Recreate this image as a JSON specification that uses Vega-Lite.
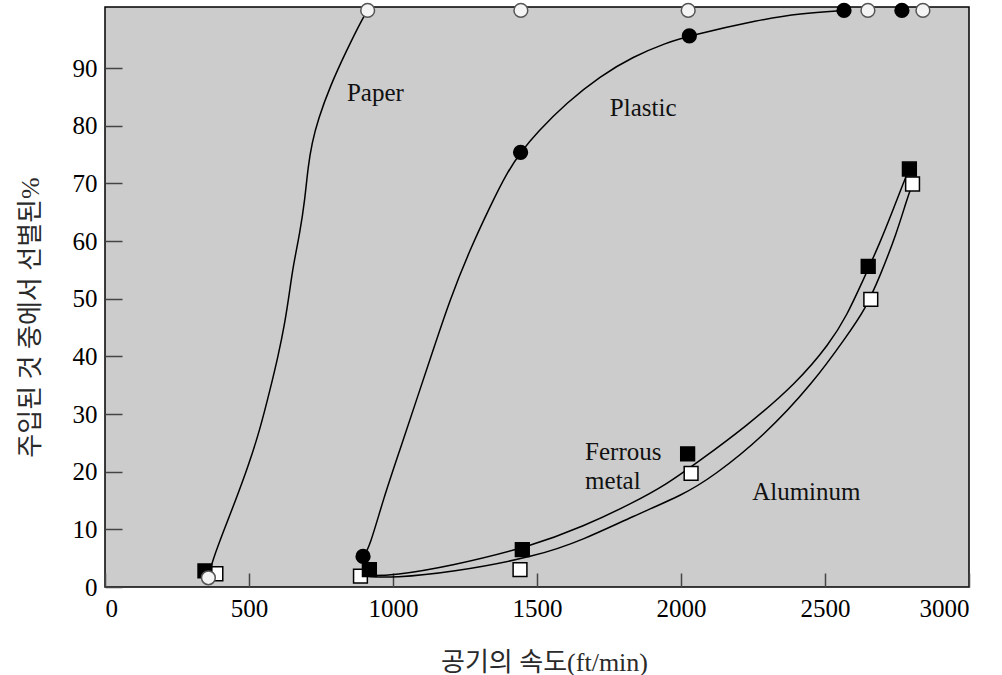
{
  "$schema": "https://vega.github.io/schema/vega-lite/v6.json",
  "width": 864,
  "height": 580,
  "autosize": {"type": "none"},
  "padding": {"left": 105, "top": 7, "right": 33, "bottom": 88},
  "background": "white",
  "config": {
    "view": {"fill": "#cccccc", "stroke": "black", "strokeWidth": 1.5},
    "axis": {"labelFont": "Liberation Serif", "labelFontSize": 25, "labelColor": "black", "titleFont": "Liberation Serif, Noto Sans CJK KR", "titleFontSize": 26, "titleFontWeight": "normal", "titleColor": "#2a2a2a", "grid": false, "domain": false, "tickColor": "#444", "tickWidth": 1.5}
  },
  "datasets": {
    "curves": [
      {"series": "Paper", "x": 358, "y": 1.8},
      {"series": "Paper", "x": 375, "y": 4.8},
      {"series": "Paper", "x": 410, "y": 9.5},
      {"series": "Paper", "x": 451, "y": 14.7},
      {"series": "Paper", "x": 497, "y": 20.9},
      {"series": "Paper", "x": 538, "y": 27.3},
      {"series": "Paper", "x": 573, "y": 34.2},
      {"series": "Paper", "x": 601, "y": 40.0},
      {"series": "Paper", "x": 625, "y": 45.9},
      {"series": "Paper", "x": 642, "y": 51.6},
      {"series": "Paper", "x": 653, "y": 55.6},
      {"series": "Paper", "x": 677, "y": 61.5},
      {"series": "Paper", "x": 694, "y": 67.2},
      {"series": "Paper", "x": 705, "y": 72.9},
      {"series": "Paper", "x": 719, "y": 77.1},
      {"series": "Paper", "x": 740, "y": 81.1},
      {"series": "Paper", "x": 781, "y": 86.8},
      {"series": "Paper", "x": 840, "y": 93.2},
      {"series": "Paper", "x": 896, "y": 98.8},
      {"series": "Paper", "x": 912, "y": 100},
      {"series": "Plastic", "x": 896, "y": 5.1},
      {"series": "Plastic", "x": 920, "y": 7.1},
      {"series": "Plastic", "x": 966, "y": 15.2},
      {"series": "Plastic", "x": 1024, "y": 23.8},
      {"series": "Plastic", "x": 1082, "y": 32.5},
      {"series": "Plastic", "x": 1140, "y": 41.2},
      {"series": "Plastic", "x": 1198, "y": 49.9},
      {"series": "Plastic", "x": 1267, "y": 58.5},
      {"series": "Plastic", "x": 1337, "y": 66.0},
      {"series": "Plastic", "x": 1395, "y": 71.8},
      {"series": "Plastic", "x": 1443, "y": 75.4},
      {"series": "Plastic", "x": 1499, "y": 78.8},
      {"series": "Plastic", "x": 1603, "y": 84.0},
      {"series": "Plastic", "x": 1719, "y": 88.6},
      {"series": "Plastic", "x": 1834, "y": 92.0},
      {"series": "Plastic", "x": 1950, "y": 94.4},
      {"series": "Plastic", "x": 2029, "y": 95.6},
      {"series": "Plastic", "x": 2274, "y": 98.4},
      {"series": "Plastic", "x": 2413, "y": 99.5},
      {"series": "Plastic", "x": 2566, "y": 100},
      {"series": "Ferrous", "x": 918, "y": 2.0},
      {"series": "Ferrous", "x": 1001, "y": 2.0},
      {"series": "Ferrous", "x": 1198, "y": 3.6},
      {"series": "Ferrous", "x": 1482, "y": 7.1},
      {"series": "Ferrous", "x": 1661, "y": 10.5},
      {"series": "Ferrous", "x": 1834, "y": 14.6},
      {"series": "Ferrous", "x": 1950, "y": 17.8},
      {"series": "Ferrous", "x": 2054, "y": 21.5},
      {"series": "Ferrous", "x": 2228, "y": 27.9},
      {"series": "Ferrous", "x": 2402, "y": 35.4},
      {"series": "Ferrous", "x": 2517, "y": 42.3},
      {"series": "Ferrous", "x": 2575, "y": 47.0},
      {"series": "Ferrous", "x": 2633, "y": 53.3},
      {"series": "Ferrous", "x": 2691, "y": 59.7},
      {"series": "Ferrous", "x": 2737, "y": 65.5},
      {"series": "Ferrous", "x": 2772, "y": 70.1},
      {"series": "Ferrous", "x": 2793, "y": 72.5},
      {"series": "Aluminum", "x": 918, "y": 1.8},
      {"series": "Aluminum", "x": 1001, "y": 1.6},
      {"series": "Aluminum", "x": 1198, "y": 2.5},
      {"series": "Aluminum", "x": 1499, "y": 5.3},
      {"series": "Aluminum", "x": 1661, "y": 8.2},
      {"series": "Aluminum", "x": 1834, "y": 12.3},
      {"series": "Aluminum", "x": 2008, "y": 16.0},
      {"series": "Aluminum", "x": 2112, "y": 19.2},
      {"series": "Aluminum", "x": 2286, "y": 26.1},
      {"series": "Aluminum", "x": 2459, "y": 35.4},
      {"series": "Aluminum", "x": 2575, "y": 43.5},
      {"series": "Aluminum", "x": 2639, "y": 48.1},
      {"series": "Aluminum", "x": 2691, "y": 53.9},
      {"series": "Aluminum", "x": 2749, "y": 61.4},
      {"series": "Aluminum", "x": 2784, "y": 67.2},
      {"series": "Aluminum", "x": 2804, "y": 69.9}
    ],
    "pts": [
      {"material": "Aluminum", "x": 385, "y": 2.3},
      {"material": "Aluminum", "x": 887, "y": 1.9},
      {"material": "Aluminum", "x": 1441, "y": 3.0},
      {"material": "Aluminum", "x": 2035, "y": 19.7},
      {"material": "Aluminum", "x": 2659, "y": 49.9},
      {"material": "Aluminum", "x": 2804, "y": 69.9},
      {"material": "Ferrous", "x": 347, "y": 2.8},
      {"material": "Ferrous", "x": 918, "y": 3.0},
      {"material": "Ferrous", "x": 1449, "y": 6.5},
      {"material": "Ferrous", "x": 2023, "y": 23.1},
      {"material": "Ferrous", "x": 2650, "y": 55.6},
      {"material": "Ferrous", "x": 2793, "y": 72.5},
      {"material": "Plastic", "x": 896, "y": 5.3},
      {"material": "Plastic", "x": 1443, "y": 75.4},
      {"material": "Plastic", "x": 2029, "y": 95.6},
      {"material": "Plastic", "x": 2566, "y": 100},
      {"material": "Plastic", "x": 2767, "y": 100},
      {"material": "Paper", "x": 359, "y": 1.6},
      {"material": "Paper", "x": 912, "y": 100},
      {"material": "Paper", "x": 1444, "y": 100},
      {"material": "Paper", "x": 2025, "y": 100},
      {"material": "Paper", "x": 2649, "y": 100},
      {"material": "Paper", "x": 2840, "y": 100}
    ],
    "labels": [
      {"text": "Paper", "x": 840, "y": 85.7},
      {"text": "Plastic", "x": 1753, "y": 83.0},
      {"text": "Ferrous", "x": 1667, "y": 23.5},
      {"text": "metal", "x": 1667, "y": 18.3},
      {"text": "Aluminum", "x": 2247, "y": 16.4}
    ]
  },
  "encoding": {
    "x": {"field": "x", "type": "quantitative", "scale": {"domain": [0, 3000], "nice": false, "zero": false},
      "axis": {"values": [0, 500, 1000, 1500, 2000, 2500, 3000], "format": "d", "tickSize": -14, "labelPadding": 23, "title": "공기의 속도(ft/min)", "titleX": 439, "titleY": 75, "titleBaseline": "middle", "titleAlign": "center"}},
    "y": {"field": "y", "type": "quantitative", "scale": {"domain": [0, 100.6], "nice": false, "zero": false},
      "axis": {"values": [0, 10, 20, 30, 40, 50, 60, 70, 80, 90], "format": "d", "tickSize": -17, "labelPadding": 25, "title": "주입된 것 중에서 선별된%", "titleAngle": -90, "titleX": -75, "titleY": 310, "titleAlign": "center", "titleBaseline": "middle"}}
  },
  "layer": [
    {
      "data": {"name": "curves"},
      "mark": {"type": "line", "interpolate": "basis", "color": "black", "strokeWidth": 1.5},
      "encoding": {"detail": {"field": "series", "type": "nominal"}}
    },
    {
      "data": {"name": "pts"},
      "mark": {"type": "point", "filled": true, "strokeWidth": 1.5, "opacity": 1},
      "encoding": {
        "shape": {"field": "material", "type": "nominal", "scale": {"domain": ["Paper", "Plastic", "Ferrous", "Aluminum"], "range": ["circle", "circle", "square", "square"]}, "legend": null},
        "fill": {"field": "material", "type": "nominal", "scale": {"domain": ["Paper", "Plastic", "Ferrous", "Aluminum"], "range": ["#f4f4f4", "black", "black", "white"]}, "legend": null},
        "stroke": {"field": "material", "type": "nominal", "scale": {"domain": ["Paper", "Plastic", "Ferrous", "Aluminum"], "range": ["#555555", "black", "black", "black"]}, "legend": null},
        "size": {"field": "material", "type": "nominal", "scale": {"domain": ["Paper", "Plastic", "Ferrous", "Aluminum"], "range": [190, 190, 250, 230]}, "legend": null}
      }
    },
    {
      "data": {"name": "labels"},
      "mark": {"type": "text", "align": "left", "baseline": "middle", "font": "Liberation Serif", "fontSize": 25, "color": "#111"},
      "encoding": {"text": {"field": "text", "type": "nominal"}}
    }
  ]
}
